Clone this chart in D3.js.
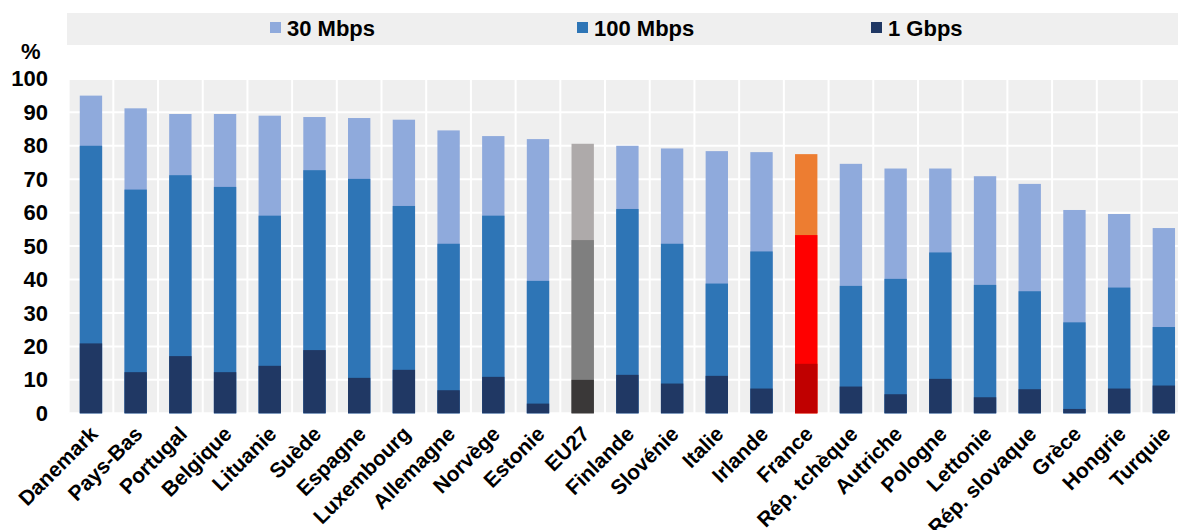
<!DOCTYPE html>
<html><head><meta charset="utf-8">
<script src="https://cdn.jsdelivr.net/npm/d3@7"></script>
<style>
html,body{margin:0;padding:0;background:#fff;}
svg{display:block;font-family:"Liberation Sans",Arial,sans-serif;font-weight:bold;}
</style></head>
<body><svg id="c" width="1178" height="530"></svg>
<script>
const categories = ["Danemark","Pays-Bas","Portugal","Belgique","Lituanie","Suède","Espagne","Luxembourg","Allemagne","Norvège","Estonie","EU27","Finlande","Slovénie","Italie","Irlande","France","Rép. tchèque","Autriche","Pologne","Lettonie","Rép. slovaque","Grèce","Hongrie","Turquie"];
const seriesNames = ["30 Mbps","100 Mbps","1 Gbps"];
const mbps30 = [95.0,91.2,89.5,89.5,89.0,88.6,88.3,87.8,84.6,82.9,82.0,80.6,80.0,79.2,78.4,78.1,77.5,74.6,73.2,73.2,70.9,68.6,60.8,59.6,55.4];
const mbps100 = [80.0,66.9,71.2,67.7,59.1,72.7,70.1,62.0,50.7,59.1,39.6,51.8,61.1,50.7,38.8,48.4,53.3,38.1,40.2,48.1,38.4,36.5,27.2,37.6,25.8];
const gbps1 = [20.9,12.3,17.1,12.3,14.2,18.9,10.6,13.0,6.9,10.9,2.9,10.0,11.5,8.9,11.2,7.4,14.8,8.0,5.7,10.3,4.8,7.2,1.3,7.4,8.3];
const yTicks = [0,10,20,30,40,50,60,70,80,90,100];
const colors = {
  normal: ["#8faadc","#2e75b6","#203864"],
  EU27: ["#aeaaaa","#7f7f7f","#3a3838"],
  France: ["#ed7d31","#ff0000","#c00000"]
};

const svg = d3.select("#c");
const x = d3.scaleBand().domain(categories).range([68.6, 1186.2]).paddingInner(0.5).paddingOuter(0.25);
const step = x.step();
const y = d3.scaleLinear().domain([0,100]).range([413.3, 78.9]);

// legend band
svg.append("rect").attr("x",67).attr("y",13).attr("width",1111).attr("height",32).attr("fill","#efefef");
const legX = [270, 577, 871];
seriesNames.forEach((s,i)=>{
  const g = svg.append("g").attr("transform",`translate(${legX[i]},0)`);
  g.append("rect").attr("x",0).attr("y",22).attr("width",11).attr("height",11).attr("fill",colors.normal[i]);
  g.append("text").attr("x",17).attr("y",35.5).attr("font-size",22).attr("fill","#000").text(s);
});

// plot background
const x0 = x.range()[0];
svg.append("rect").attr("x",x0).attr("y",y(100)).attr("width",1178-x0).attr("height",y(0)-y(100)).attr("fill","#efefef");
svg.append("g").selectAll("line").data(yTicks).join("line")
  .attr("x1",x0).attr("x2",1178).attr("y1",d=>y(d)).attr("y2",d=>y(d))
  .attr("stroke","#fff").attr("stroke-width",2);
svg.append("g").selectAll("line").data(categories).join("line")
  .attr("x1",d=>x(d)-step*0.25).attr("x2",d=>x(d)-step*0.25)
  .attr("y1",y(100)).attr("y2",y(0))
  .attr("stroke","#fff").attr("stroke-width",2);

// bars (nested coverage levels, each drawn from 0)
const layers = [mbps30, mbps100, gbps1];
layers.forEach((arr,li)=>{
  svg.append("g").selectAll("rect").data(categories).join("rect")
    .attr("x",d=>x(d)).attr("width",x.bandwidth())
    .attr("y",(d,i)=>y(arr[i])).attr("height",(d,i)=>y(0)-y(arr[i]))
    .attr("fill",d=>(colors[d]||colors.normal)[li]);
});

// y axis
const yAxis = d3.axisLeft(y).tickValues(yTicks).tickSize(0).tickPadding(0);
const ya = svg.append("g").attr("transform","translate(48,0)").call(yAxis);
ya.select(".domain").remove();
ya.selectAll("text").attr("font-size",22).attr("font-family","Liberation Sans, Arial, sans-serif").attr("font-weight","bold").attr("fill","#000");
svg.append("text").attr("x",21).attr("y",59).attr("font-size",22).attr("fill","#000").text("%");

// x labels
const xAxis = d3.axisBottom(x).tickSize(0).tickPadding(0);
const xa = svg.append("g").attr("transform",`translate(0,${y(0)})`).call(xAxis);
xa.select(".domain").remove();
xa.selectAll("text")
  .attr("font-size",21).attr("font-family","Liberation Sans, Arial, sans-serif").attr("font-weight","bold").attr("fill","#000")
  .attr("text-anchor","end").attr("dy",null).attr("y",0)
  .attr("transform","translate(8,22) rotate(-45)");
</script></body></html>
